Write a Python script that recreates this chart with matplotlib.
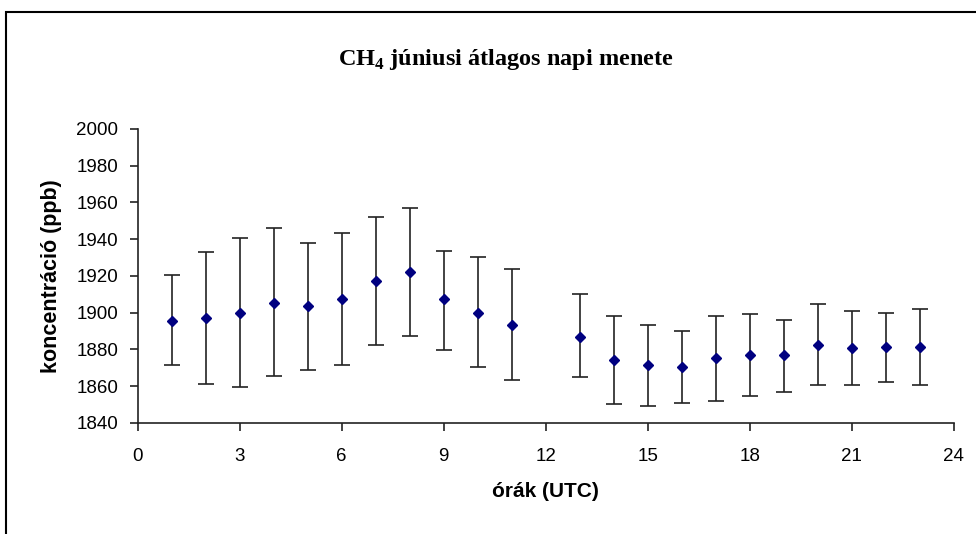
import matplotlib.pyplot as plt
from matplotlib.patches import Rectangle

plt.rcParams['mathtext.fontset'] = 'custom'
plt.rcParams['mathtext.rm'] = 'Liberation Serif'
plt.rcParams['mathtext.bf'] = 'Liberation Serif:bold'

# Órák (UTC) – 12 UTC-kor nincs adat
hours = [1, 2, 3, 4, 5, 6, 7, 8, 9, 10, 11, 13, 14, 15, 16, 17, 18, 19, 20, 21, 22, 23]
# Átlagos CH4 koncentráció (ppb)
mean_ppb = [1895.3, 1897.1, 1899.8, 1905.4, 1903.4, 1907.2, 1917.2, 1921.9, 1907.2, 1899.8, 1893.4,
            1886.9, 1874.2, 1871.3, 1870.4, 1875.1, 1877.0, 1877.0, 1882.4, 1880.6, 1881.5, 1881.5]
# Hibasávok alsó és felső határa (ppb)
low_ppb = [1871.3, 1861.2, 1859.4, 1865.7, 1868.8, 1871.3, 1882.4, 1887.1, 1879.9, 1870.4, 1863.2,
           1865.0, 1850.3, 1849.4, 1851.0, 1852.1, 1854.9, 1856.7, 1860.5, 1860.5, 1862.4, 1860.5]
high_ppb = [1920.3, 1932.9, 1940.5, 1946.0, 1937.8, 1943.3, 1952.3, 1956.8, 1933.8, 1930.4, 1923.7,
            1910.1, 1898.0, 1893.4, 1889.8, 1898.0, 1899.1, 1896.2, 1904.7, 1900.9, 1900.0, 1901.8]

x_ticks = [0, 3, 6, 9, 12, 15, 18, 21, 24]
y_ticks = [1840, 1860, 1880, 1900, 1920, 1940, 1960, 1980, 2000]

yerr = [[m - lo for m, lo in zip(mean_ppb, low_ppb)],
        [hi - m for m, hi in zip(mean_ppb, high_ppb)]]

fig = plt.figure(figsize=(9.76, 5.34), dpi=100)
ax = fig.add_axes([0.1409, 0.2079, 0.8363, 0.5506])

ax.errorbar(hours, mean_ppb, yerr=yerr, fmt='D', color='#000080', markersize=5.5,
            ecolor='#222222', elinewidth=1.2, capsize=5.5, capthick=1.2)

ax.set_xlim(0, 24)
ax.set_ylim(1840, 2000)
ax.set_xticks(x_ticks)
ax.set_yticks(y_ticks)
ax.spines['top'].set_visible(False)
ax.spines['right'].set_visible(False)
for side in ['left', 'bottom']:
    ax.spines[side].set_linewidth(1.2)
    ax.spines[side].set_color('#222222')
ax.tick_params(direction='out', length=6, width=1.2, color='#222222')
ax.tick_params(axis='y', pad=8)
ax.tick_params(axis='x', pad=12)
for lab in ax.get_xticklabels() + ax.get_yticklabels():
    lab.set_fontfamily('Liberation Sans')
    lab.set_fontsize(13.5)

ax.set_xlabel('órák (UTC)', family='Liberation Sans', fontsize=15, fontweight='bold', labelpad=12)
ax.set_ylabel('koncentráció (ppb)', family='Liberation Sans', fontsize=15.5, fontweight='bold', labelpad=10)

fig.text(0.518, 0.888, r'CH$_\mathbf{4}$ júniusi átlagos napi menete', ha='center', va='center',
         family='Liberation Serif', fontsize=17.5, fontweight='bold')

# keret a diagram körül
fig.patches.append(Rectangle((0.0065, -0.1), 1.2, 1.078, transform=fig.transFigure,
                             fill=False, edgecolor='black', linewidth=1.5))

fig.savefig('out.png', dpi=100)
